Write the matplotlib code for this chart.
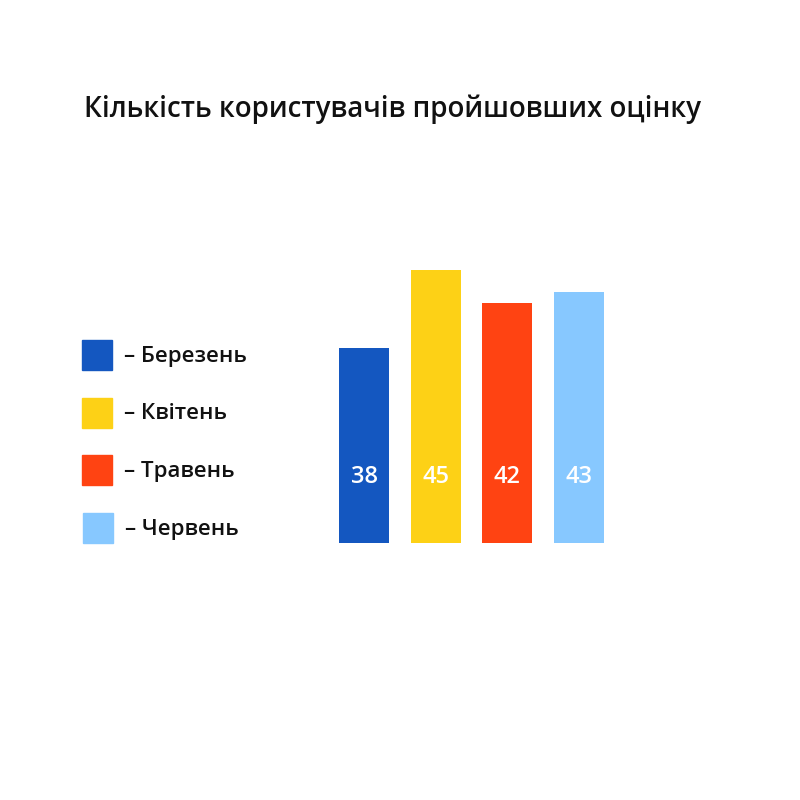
import matplotlib
matplotlib.use("Agg")
import matplotlib.pyplot as plt
from matplotlib.patches import Rectangle
import matplotlib.transforms as mtransforms

plt.rcParams['font.family'] = ['Open Sans', 'Noto Sans', 'DejaVu Sans']

title = "Кількість користувачів пройшовших оцінку"
months = ["Березень", "Квітень", "Травень", "Червень"]
values = [38, 45, 42, 43]
colors = ["#1457C0", "#FDD116", "#FF4312", "#87C8FF"]

W = H = 800
fig = plt.figure(figsize=(8, 8), dpi=100)
fig.patch.set_facecolor("white")

def fx(px):
    return px / W

def fy(py):
    return 1 - py / H

# Bars axes: x centers 364..579 (71.67 px per slot), baseline at y=543
unit = (579 - 364) / 3
left = 364 - 0.5 * unit
right = 579 + 0.5 * unit
ax = fig.add_axes([fx(left), fy(543), fx(right - left), (543 - 243) / H])
ymin = 20.5
pxper = 11.15
ax.set_xlim(-0.5, 3.5)
ax.set_ylim(ymin, ymin + 300 / pxper)
xs = list(range(len(values)))
ax.bar(xs, [v - ymin for v in values], bottom=ymin, width=50 / unit, color=colors)
trans = mtransforms.blended_transform_factory(ax.transData, ax.transAxes)
for x, v in zip(xs, values):
    ax.text(x, (543 - 477) / 300, str(v), transform=trans, ha="center", va="center",
            color="white", fontsize=17, fontweight="semibold")

ax.axis("off")

# Title
fig.text(fx(84), fy(109), title, ha="left", va="center", fontsize=20,
         fontweight="semibold", color="#111111")

# Legend
leg_y = [355, 413, 470, 528]
for i, (m, c) in enumerate(zip(months, colors)):
    y = leg_y[i]
    x0 = 82 if i < 3 else 83
    fig.patches.append(Rectangle((fx(x0), fy(y + 15)), 30 / W, 30 / H,
                                 transform=fig.transFigure, color=c))
    fig.text(fx(x0 + 42), fy(y + 1), "– " + m, ha="left", va="center",
             fontsize=16, fontweight="semibold", color="#111111")

fig.savefig("out.png", dpi=100, facecolor="white")
